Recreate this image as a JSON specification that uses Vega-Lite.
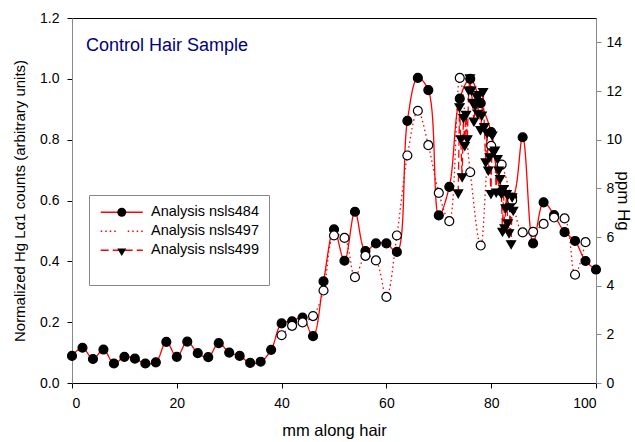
{
  "$schema": "https://vega.github.io/schema/vega-lite/v6.json",
  "width": 524,
  "height": 365,
  "autosize": "none",
  "padding": {"left": 72, "top": 18, "right": 39, "bottom": 59},
  "background": "white",
  "config": {
    "view": {"stroke": "black", "strokeWidth": 1},
    "font": "Liberation Sans",
    "axis": {"labelFont": "Liberation Sans", "titleFont": "Liberation Sans", "labelColor": "black", "titleColor": "black", "titleFontWeight": "normal", "grid": false},
    "legend": {"labelFont": "Liberation Sans", "titleFont": "Liberation Sans"}
  },
  "title": {"text": "Control Hair Sample", "anchor": "start", "frame": "group", "orient": "top", "offset": 0, "dx": 14, "dy": 58, "baseline": "alphabetic", "color": "#000080", "fontSize": 18, "fontWeight": "normal", "font": "Liberation Sans"},
  "data": {"values": [
    {"series": "Analysis nsls484", "x": 0, "v": 0.089},
    {"series": "Analysis nsls484", "x": 2, "v": 0.116},
    {"series": "Analysis nsls484", "x": 4, "v": 0.079},
    {"series": "Analysis nsls484", "x": 6, "v": 0.11},
    {"series": "Analysis nsls484", "x": 8, "v": 0.064},
    {"series": "Analysis nsls484", "x": 10, "v": 0.086},
    {"series": "Analysis nsls484", "x": 12, "v": 0.08},
    {"series": "Analysis nsls484", "x": 14, "v": 0.064},
    {"series": "Analysis nsls484", "x": 16, "v": 0.068},
    {"series": "Analysis nsls484", "x": 18, "v": 0.135},
    {"series": "Analysis nsls484", "x": 20, "v": 0.086},
    {"series": "Analysis nsls484", "x": 22, "v": 0.136},
    {"series": "Analysis nsls484", "x": 24, "v": 0.098},
    {"series": "Analysis nsls484", "x": 26, "v": 0.085},
    {"series": "Analysis nsls484", "x": 28, "v": 0.131},
    {"series": "Analysis nsls484", "x": 30, "v": 0.1},
    {"series": "Analysis nsls484", "x": 32, "v": 0.089},
    {"series": "Analysis nsls484", "x": 34, "v": 0.066},
    {"series": "Analysis nsls484", "x": 36, "v": 0.07},
    {"series": "Analysis nsls484", "x": 38, "v": 0.109},
    {"series": "Analysis nsls484", "x": 40, "v": 0.196},
    {"series": "Analysis nsls484", "x": 42, "v": 0.203},
    {"series": "Analysis nsls484", "x": 44, "v": 0.215},
    {"series": "Analysis nsls484", "x": 46, "v": 0.154},
    {"series": "Analysis nsls484", "x": 48, "v": 0.334},
    {"series": "Analysis nsls484", "x": 50, "v": 0.505},
    {"series": "Analysis nsls484", "x": 52, "v": 0.402},
    {"series": "Analysis nsls484", "x": 54, "v": 0.563},
    {"series": "Analysis nsls484", "x": 56, "v": 0.434},
    {"series": "Analysis nsls484", "x": 58, "v": 0.459},
    {"series": "Analysis nsls484", "x": 60, "v": 0.459},
    {"series": "Analysis nsls484", "x": 62, "v": 0.431},
    {"series": "Analysis nsls484", "x": 64, "v": 0.862},
    {"series": "Analysis nsls484", "x": 66, "v": 1.003},
    {"series": "Analysis nsls484", "x": 68, "v": 0.963},
    {"series": "Analysis nsls484", "x": 70, "v": 0.551},
    {"series": "Analysis nsls484", "x": 72, "v": 0.645},
    {"series": "Analysis nsls484", "x": 74, "v": 0.935},
    {"series": "Analysis nsls484", "x": 76, "v": 1.0},
    {"series": "Analysis nsls484", "x": 78, "v": 0.92},
    {"series": "Analysis nsls484", "x": 80, "v": 0.825},
    {"series": "Analysis nsls484", "x": 82, "v": 0.63},
    {"series": "Analysis nsls484", "x": 84, "v": 0.61},
    {"series": "Analysis nsls484", "x": 86, "v": 0.808},
    {"series": "Analysis nsls484", "x": 88, "v": 0.459},
    {"series": "Analysis nsls484", "x": 90, "v": 0.594},
    {"series": "Analysis nsls484", "x": 92, "v": 0.552},
    {"series": "Analysis nsls484", "x": 94, "v": 0.496},
    {"series": "Analysis nsls484", "x": 96, "v": 0.467},
    {"series": "Analysis nsls484", "x": 98, "v": 0.401},
    {"series": "Analysis nsls484", "x": 100, "v": 0.373},
    {"series": "Analysis nsls497", "x": 40, "v": 0.157},
    {"series": "Analysis nsls497", "x": 42, "v": 0.188},
    {"series": "Analysis nsls497", "x": 44, "v": 0.199},
    {"series": "Analysis nsls497", "x": 46, "v": 0.22},
    {"series": "Analysis nsls497", "x": 48, "v": 0.304},
    {"series": "Analysis nsls497", "x": 50, "v": 0.485},
    {"series": "Analysis nsls497", "x": 52, "v": 0.477},
    {"series": "Analysis nsls497", "x": 54, "v": 0.348},
    {"series": "Analysis nsls497", "x": 56, "v": 0.418},
    {"series": "Analysis nsls497", "x": 58, "v": 0.403},
    {"series": "Analysis nsls497", "x": 60, "v": 0.283},
    {"series": "Analysis nsls497", "x": 62, "v": 0.485},
    {"series": "Analysis nsls497", "x": 64, "v": 0.748},
    {"series": "Analysis nsls497", "x": 66, "v": 0.895},
    {"series": "Analysis nsls497", "x": 68, "v": 0.782},
    {"series": "Analysis nsls497", "x": 70, "v": 0.625},
    {"series": "Analysis nsls497", "x": 72, "v": 0.532},
    {"series": "Analysis nsls497", "x": 74, "v": 1.003},
    {"series": "Analysis nsls497", "x": 76, "v": 0.693},
    {"series": "Analysis nsls497", "x": 78, "v": 0.452},
    {"series": "Analysis nsls497", "x": 80, "v": 0.78},
    {"series": "Analysis nsls497", "x": 82, "v": 0.718},
    {"series": "Analysis nsls497", "x": 84, "v": 0.6},
    {"series": "Analysis nsls497", "x": 86, "v": 0.495},
    {"series": "Analysis nsls497", "x": 88, "v": 0.497},
    {"series": "Analysis nsls497", "x": 90, "v": 0.523},
    {"series": "Analysis nsls497", "x": 92, "v": 0.544},
    {"series": "Analysis nsls497", "x": 94, "v": 0.541},
    {"series": "Analysis nsls497", "x": 96, "v": 0.356},
    {"series": "Analysis nsls497", "x": 98, "v": 0.463},
    {"series": "Analysis nsls499", "x": 73.7, "v": 0.622},
    {"series": "Analysis nsls499", "x": 73.95, "v": 0.905},
    {"series": "Analysis nsls499", "x": 74.2, "v": 0.8},
    {"series": "Analysis nsls499", "x": 74.45, "v": 0.675},
    {"series": "Analysis nsls499", "x": 74.7, "v": 0.87},
    {"series": "Analysis nsls499", "x": 74.95, "v": 0.778},
    {"series": "Analysis nsls499", "x": 75.2, "v": 0.88},
    {"series": "Analysis nsls499", "x": 75.45, "v": 0.8},
    {"series": "Analysis nsls499", "x": 75.7, "v": 0.96},
    {"series": "Analysis nsls499", "x": 75.95, "v": 1.0},
    {"series": "Analysis nsls499", "x": 76.2, "v": 0.96},
    {"series": "Analysis nsls499", "x": 76.45, "v": 0.92},
    {"series": "Analysis nsls499", "x": 76.7, "v": 0.858},
    {"series": "Analysis nsls499", "x": 76.95, "v": 0.91},
    {"series": "Analysis nsls499", "x": 77.2, "v": 0.94},
    {"series": "Analysis nsls499", "x": 77.45, "v": 0.884},
    {"series": "Analysis nsls499", "x": 77.7, "v": 0.945},
    {"series": "Analysis nsls499", "x": 77.95, "v": 0.83},
    {"series": "Analysis nsls499", "x": 78.2, "v": 0.878},
    {"series": "Analysis nsls499", "x": 78.45, "v": 0.955},
    {"series": "Analysis nsls499", "x": 78.7, "v": 0.84},
    {"series": "Analysis nsls499", "x": 78.95, "v": 0.724},
    {"series": "Analysis nsls499", "x": 79.2, "v": 0.82},
    {"series": "Analysis nsls499", "x": 79.45, "v": 0.697},
    {"series": "Analysis nsls499", "x": 79.7, "v": 0.741},
    {"series": "Analysis nsls499", "x": 79.95, "v": 0.62},
    {"series": "Analysis nsls499", "x": 80.2, "v": 0.812},
    {"series": "Analysis nsls499", "x": 80.45, "v": 0.757},
    {"series": "Analysis nsls499", "x": 80.7, "v": 0.763},
    {"series": "Analysis nsls499", "x": 80.95, "v": 0.625},
    {"series": "Analysis nsls499", "x": 81.2, "v": 0.735},
    {"series": "Analysis nsls499", "x": 81.45, "v": 0.697},
    {"series": "Analysis nsls499", "x": 81.7, "v": 0.669},
    {"series": "Analysis nsls499", "x": 81.95, "v": 0.62},
    {"series": "Analysis nsls499", "x": 82.15, "v": 0.496},
    {"series": "Analysis nsls499", "x": 82.35, "v": 0.636},
    {"series": "Analysis nsls499", "x": 82.55, "v": 0.507},
    {"series": "Analysis nsls499", "x": 82.75, "v": 0.573},
    {"series": "Analysis nsls499", "x": 82.95, "v": 0.62},
    {"series": "Analysis nsls499", "x": 83.15, "v": 0.524},
    {"series": "Analysis nsls499", "x": 83.4, "v": 0.491},
    {"series": "Analysis nsls499", "x": 83.6, "v": 0.576},
    {"series": "Analysis nsls499", "x": 83.8, "v": 0.455},
    {"series": "Analysis nsls499", "x": 84.0, "v": 0.609},
    {"series": "Analysis nsls499", "x": 84.2, "v": 0.565}
  ]},
  "layer": [
    {
      "encoding": {
        "x": {"field": "x", "type": "quantitative", "scale": {"domain": [0, 100], "nice": false},
          "axis": {"values": [0, 20, 40, 60, 80, 100], "title": "mm along hair", "tickSize": 5, "labelPadding": 8, "labelFontSize": 14, "titleFontSize": 16.5, "titlePadding": 12, "domainColor": "black", "tickColor": "black"}},
        "y": {"field": "v", "type": "quantitative", "scale": {"domain": [0, 1.2], "nice": false},
          "axis": {"values": [0, 0.2, 0.4, 0.6, 0.8, 1.0, 1.2], "format": ".1f", "title": "Normalized Hg Lα1 counts (arbitrary units)", "tickSize": 5, "labelPadding": 8, "labelFontSize": 14, "titleFontSize": 15, "titlePadding": 12, "domainColor": "#888888", "tickColor": "black"}}
      },
      "layer": [
        {
          "transform": [{"filter": "datum.series === 'Analysis nsls484'"}],
          "mark": {"type": "line", "color": "#ff0000", "strokeWidth": 1.3, "interpolate": "catmull-rom"},
          "encoding": {"strokeDash": {"field": "series", "type": "nominal",
            "scale": {"domain": ["Analysis nsls484", "Analysis nsls497", "Analysis nsls499"], "range": [[1, 0], [1.5, 3], [8, 4]]},
            "legend": {"orient": "none", "legendX": 17, "legendY": 177, "title": "\u00a0", "titleOrient": "bottom", "titleFontSize": 14, "titlePadding": 4, "symbolType": "M-4.7,0H4.7", "symbolSize": 80, "symbolOffset": 15.5, "symbolStrokeColor": "#ff0000", "symbolStrokeWidth": 1.3, "labelFontSize": 14.5, "labelOffset": 22, "padding": 10, "rowPadding": 4, "strokeColor": "#888888"}}}
        },
        {
          "transform": [{"filter": "datum.series === 'Analysis nsls497'"}],
          "mark": {"type": "line", "color": "#ff0000", "strokeWidth": 1.3, "interpolate": "catmull-rom"},
          "encoding": {"strokeDash": {"field": "series", "type": "nominal"}}
        },
        {
          "transform": [{"filter": "datum.series === 'Analysis nsls499'"}],
          "mark": {"type": "line", "color": "#ff0000", "strokeWidth": 1.3},
          "encoding": {"strokeDash": {"field": "series", "type": "nominal"}}
        },
        {
          "mark": {"type": "point", "size": 80, "stroke": "black", "strokeWidth": 1.2, "opacity": 1},
          "encoding": {
            "shape": {"field": "series", "type": "nominal", "scale": {"range": ["circle", "circle", "triangle-down"]},
              "legend": {"orient": "none", "legendX": 17, "legendY": 177, "title": null, "labelFontSize": 14.5, "labelExpr": "''", "symbolSize": 80, "symbolOffset": 15.5, "symbolStrokeColor": "black", "symbolStrokeWidth": 1.2, "padding": 10, "rowPadding": 4}},
            "fill": {"field": "series", "type": "nominal", "scale": {"range": ["black", "white", "black"]}}
          }
        }
      ]
    },
    {
      "mark": {"type": "rule", "opacity": 0},
      "encoding": {
        "y": {"datum": 0, "type": "quantitative", "scale": {"domain": [0, 15], "nice": false},
          "axis": {"orient": "right", "values": [0, 2, 4, 6, 8, 10, 12, 14], "title": "ppm Hg", "tickSize": 5, "labelPadding": 5, "labelFontSize": 14, "titleFontSize": 17, "titlePadding": -8, "domainColor": "#888888", "tickColor": "#888888"}}
      }
    }
  ],
  "resolve": {"scale": {"y": "independent"}}
}
